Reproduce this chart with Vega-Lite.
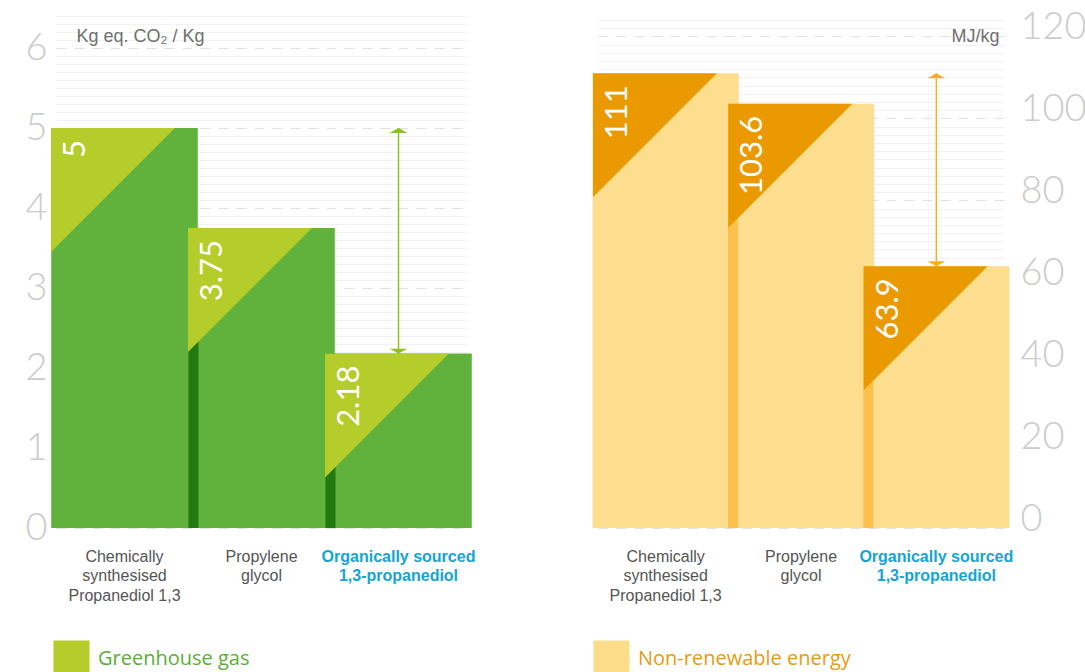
{
  "$schema": "https://vega.github.io/schema/vega-lite/v6.json",
  "background": "white",
  "padding": {"left": 24, "top": 8, "right": 0, "bottom": 0},
  "data": {
    "values": [
      {"indicator": "Greenhouse gas", "product": "Chemically\nsynthesised\nPropanediol 1,3", "value": 5},
      {"indicator": "Greenhouse gas", "product": "Propylene\nglycol", "value": 3.75},
      {"indicator": "Greenhouse gas", "product": "Organically sourced\n1,3-propanediol", "value": 2.18},
      {"indicator": "Non-renewable energy", "product": "Chemically\nsynthesised\nPropanediol 1,3", "value": 111},
      {"indicator": "Non-renewable energy", "product": "Propylene\nglycol", "value": 103.6},
      {"indicator": "Non-renewable energy", "product": "Organically sourced\n1,3-propanediol", "value": 63.9}
    ]
  },
  "bounds": "flush",
  "spacing": 131,
  "resolve": {
    "scale": {"x": "independent", "y": "independent", "color": "independent"},
    "legend": {"color": "independent"}
  },
  "hconcat": [
    {
      "width": 411,
      "height": 512,
      "transform": [{"filter": "datum.indicator === 'Greenhouse gas'"}],
      "encoding": {
        "x": {
          "field": "product", "type": "nominal", "sort": null,
          "scale": {"paddingInner": 0, "paddingOuter": 0},
          "axis": {
            "title": null, "orient": "bottom", "domain": false, "ticks": false, "grid": false,
            "labelAngle": 0, "labelPadding": 28, "labelBaseline": "middle", "labelLimit": 400,
            "labelFont": "Liberation Sans", "labelFontSize": 16, "labelLineHeight": 19.5,
            "labelExpr": "split(datum.value, '\\n')",
            "labelColor": {"condition": {"test": "indexof(datum.value, 'Organically') === 0", "value": "#12a5d5"}, "value": "#555555"},
            "labelFontWeight": {"condition": {"test": "indexof(datum.value, 'Organically') === 0", "value": "bold"}, "value": "normal"}
          }
        },
        "y": {
          "field": "value", "type": "quantitative",
          "scale": {"domain": [0, 6.4], "nice": false},
          "axis": {
            "orient": "left", "domain": false, "ticks": false, "grid": true,
            "tickCount": 64, "labelOverlap": false, "labelFlush": false,
            "labelExpr": "datum.value % 1 === 0 ? format(datum.value, 'd') : ''",
            "labelFont": "Lato", "labelFontWeight": 300, "labelColor": "#cccccc", "labelPadding": 9,
            "labelFontSize": {"condition": {"test": "datum.value % 1 === 0", "value": 38}, "value": 1},
            "gridColor": {"condition": {"test": "datum.value % 1 === 0", "value": "#e2e2e2"}, "value": "#f2f2f2"},
            "gridDash": {"condition": {"test": "datum.value % 1 === 0", "value": [10, 8]}, "value": []},
            "title": "Kg eq. CO₂ / Kg", "titleAngle": 0, "titleX": 20, "titleY": 20,
            "titleAlign": "left", "titleBaseline": "middle",
            "titleFont": "Liberation Sans", "titleFontSize": 18, "titleFontWeight": "normal", "titleColor": "#707070"
          }
        }
      },
      "layer": [
        {"mark": {"type": "bar", "color": "#5baf34", "opacity": 0.96, "width": {"band": 1.07}}},
        {
          "transform": [{"filter": "indexof(datum.product, 'Chemically') !== 0"}],
          "mark": {"type": "bar", "color": "#22790f", "width": 10, "xOffset": -68}
        },
        {
          "mark": {"type": "point", "shape": "M0,0L1,0L0,1Z", "filled": true, "size": 61504, "opacity": 1, "strokeWidth": 0, "xOffset": -5},
          "encoding": {
            "x": {"field": "product", "type": "nominal", "sort": null, "bandPosition": 0},
            "color": {
              "field": "indicator", "type": "nominal", "scale": {"range": ["#b5cd2b"]},
              "legend": {
                "orient": "none", "legendX": -3, "legendY": 624, "title": null, "padding": 0,
                "symbolType": "square", "symbolSize": 1300, "symbolStrokeWidth": 0, "symbolOpacity": 1,
                "labelFont": "Open Sans", "labelFontSize": 20, "labelColor": "#5aae33", "labelOffset": 8, "labelLimit": 400
              }
            }
          }
        },
        {
          "mark": {"type": "text", "angle": 270, "align": "right", "baseline": "middle", "font": "Lato", "fontSize": 31, "fontWeight": "normal", "color": "white", "xOffset": 20, "yOffset": 12},
          "encoding": {
            "x": {"field": "product", "type": "nominal", "sort": null, "bandPosition": 0},
            "text": {"field": "value", "type": "nominal"}
          }
        },
        {
          "transform": [
            {"joinaggregate": [{"op": "max", "field": "value", "as": "maxValue"}]},
            {"filter": "indexof(datum.product, 'Organically') === 0"}
          ],
          "layer": [
            {
              "mark": {"type": "rule", "color": "#8cc220", "strokeWidth": 1.5},
              "encoding": {
                "x": {"field": "product", "type": "nominal", "sort": null, "bandPosition": 0.5},
                "y": {"field": "maxValue", "type": "quantitative"},
                "y2": {"field": "value"}
              }
            },
            {
              "mark": {"type": "point", "shape": "M0,0L1,0.55L-1,0.55Z", "filled": true, "size": 324, "opacity": 1, "strokeWidth": 0, "color": "#8cc220"},
              "encoding": {
                "x": {"field": "product", "type": "nominal", "sort": null, "bandPosition": 0.5},
                "y": {"field": "maxValue", "type": "quantitative"}
              }
            },
            {
              "mark": {"type": "point", "shape": "M0,0L1,-0.55L-1,-0.55Z", "filled": true, "size": 324, "opacity": 1, "strokeWidth": 0, "color": "#8cc220"},
              "encoding": {
                "x": {"field": "product", "type": "nominal", "sort": null, "bandPosition": 0.5}
              }
            }
          ]
        }
      ]
    },
    {
      "width": 406,
      "height": 512,
      "transform": [{"filter": "datum.indicator === 'Non-renewable energy'"}],
      "encoding": {
        "x": {
          "field": "product", "type": "nominal", "sort": null,
          "scale": {"paddingInner": 0, "paddingOuter": 0},
          "axis": {
            "title": null, "orient": "bottom", "domain": false, "ticks": false, "grid": false,
            "labelAngle": 0, "labelPadding": 28, "labelBaseline": "middle", "labelLimit": 400,
            "labelFont": "Liberation Sans", "labelFontSize": 16, "labelLineHeight": 19.5,
            "labelExpr": "split(datum.value, '\\n')",
            "labelColor": {"condition": {"test": "indexof(datum.value, 'Organically') === 0", "value": "#12a5d5"}, "value": "#555555"},
            "labelFontWeight": {"condition": {"test": "indexof(datum.value, 'Organically') === 0", "value": "bold"}, "value": "normal"}
          }
        },
        "y": {
          "field": "value", "type": "quantitative",
          "scale": {"domain": [0, 125], "nice": false},
          "axis": {
            "orient": "right", "domain": false, "ticks": false, "grid": true,
            "tickCount": 62, "labelOverlap": false, "labelFlush": false,
            "labelExpr": "datum.value % 20 === 0 ? format(datum.value, 'd') : ''",
            "labelFont": "Lato", "labelFontWeight": 300, "labelColor": "#cccccc", "labelPadding": 16, "labelOffset": -9,
            "labelFontSize": {"condition": {"test": "datum.value % 20 === 0", "value": 38}, "value": 1},
            "gridColor": {"condition": {"test": "datum.value % 20 === 0", "value": "#e2e2e2"}, "value": "#f2f2f2"},
            "gridDash": {"condition": {"test": "datum.value % 20 === 0", "value": [10, 8]}, "value": []},
            "title": "MJ/kg", "titleAngle": 0, "titleX": -5, "titleY": 20,
            "titleAlign": "right", "titleBaseline": "middle",
            "titleFont": "Liberation Sans", "titleFontSize": 18, "titleFontWeight": "normal", "titleColor": "#707070"
          }
        }
      },
      "layer": [
        {
          "mark": {"type": "bar", "opacity": 0.96, "width": {"band": 1.08}},
          "encoding": {
            "color": {
              "field": "indicator", "type": "nominal", "scale": {"range": ["#fddd8a"]},
              "legend": {
                "orient": "none", "legendX": -5, "legendY": 624, "title": null, "padding": 0,
                "symbolType": "square", "symbolSize": 1300, "symbolStrokeWidth": 0, "symbolOpacity": 1,
                "labelFont": "Open Sans", "labelFontSize": 20, "labelColor": "#e99a12", "labelOffset": 8, "labelLimit": 400
              }
            }
          }
        },
        {
          "transform": [{"filter": "indexof(datum.product, 'Chemically') !== 0"}],
          "mark": {"type": "bar", "color": "#fdc04a", "width": 10, "xOffset": -68}
        },
        {
          "mark": {"type": "point", "shape": "M0,0L1,0L0,1Z", "filled": true, "size": 61504, "opacity": 1, "strokeWidth": 0, "xOffset": -5, "color": "#ea9a00"},
          "encoding": {
            "x": {"field": "product", "type": "nominal", "sort": null, "bandPosition": 0}
          }
        },
        {
          "mark": {"type": "text", "angle": 270, "align": "right", "baseline": "middle", "font": "Lato", "fontSize": 31, "fontWeight": "normal", "color": "white", "xOffset": 20, "yOffset": 12},
          "encoding": {
            "x": {"field": "product", "type": "nominal", "sort": null, "bandPosition": 0},
            "text": {"field": "value", "type": "nominal"}
          }
        },
        {
          "transform": [
            {"joinaggregate": [{"op": "max", "field": "value", "as": "maxValue"}]},
            {"filter": "indexof(datum.product, 'Organically') === 0"}
          ],
          "layer": [
            {
              "mark": {"type": "rule", "color": "#f4b21a", "strokeWidth": 1.5},
              "encoding": {
                "x": {"field": "product", "type": "nominal", "sort": null, "bandPosition": 0.5},
                "y": {"field": "maxValue", "type": "quantitative"},
                "y2": {"field": "value"}
              }
            },
            {
              "mark": {"type": "point", "shape": "M0,0L1,0.55L-1,0.55Z", "filled": true, "size": 324, "opacity": 1, "strokeWidth": 0, "color": "#f4b21a"},
              "encoding": {
                "x": {"field": "product", "type": "nominal", "sort": null, "bandPosition": 0.5},
                "y": {"field": "maxValue", "type": "quantitative"}
              }
            },
            {
              "mark": {"type": "point", "shape": "M0,0L1,-0.55L-1,-0.55Z", "filled": true, "size": 324, "opacity": 1, "strokeWidth": 0, "color": "#f4b21a"},
              "encoding": {
                "x": {"field": "product", "type": "nominal", "sort": null, "bandPosition": 0.5}
              }
            }
          ]
        }
      ]
    }
  ],
  "config": {
    "view": {"stroke": null},
    "font": "Liberation Sans"
  }
}
